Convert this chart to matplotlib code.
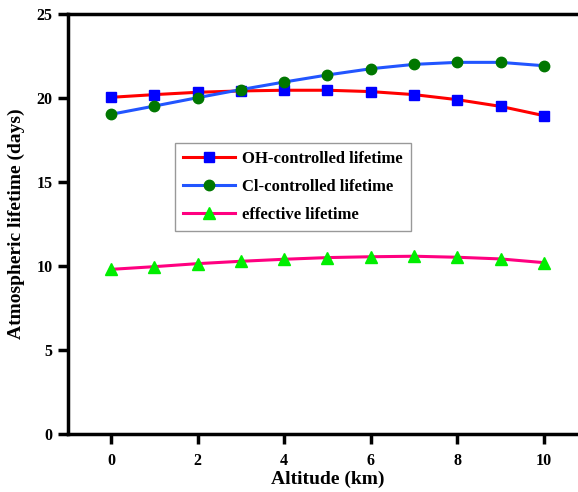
import matplotlib
matplotlib.use("Agg")
import matplotlib.pyplot as plt

altitude = [0, 1, 2, 3, 4, 5, 6, 7, 8, 9, 10]
oh_lifetime = [20.04, 20.2, 20.34, 20.42, 20.46, 20.46, 20.38, 20.2, 19.9, 19.5, 18.95]
cl_lifetime = [19.03, 19.52, 20.02, 20.5, 20.95, 21.37, 21.74, 22.0, 22.12, 22.12, 21.92]
eff_lifetime = [9.8, 9.96, 10.14, 10.28, 10.4, 10.5, 10.55, 10.58, 10.52, 10.42, 10.2]
labels = ["OH-controlled lifetime", "Cl-controlled lifetime", "effective lifetime"]

plt.rcParams['font.family'] = ['Liberation Serif', 'DejaVu Serif']
plt.rcParams['font.weight'] = 'bold'

fig = plt.figure(figsize=(5.78, 4.92), dpi=100)
ax = fig.add_axes([0.1176, 0.1179, 0.898, 0.8537])

ax.plot(altitude, oh_lifetime, color='#ff0000', lw=2.2, marker='s', ms=7,
        mfc='#0000ff', mec='#0000ff', label=labels[0])
ax.plot(altitude, cl_lifetime, color='#2255ff', lw=2.2, marker='o', ms=7.5,
        mfc='#007700', mec='#007700', label=labels[1])
ax.plot(altitude, eff_lifetime, color='#ff0080', lw=2.2, marker='^', ms=8,
        mfc='#00ee00', mec='#00ee00', label=labels[2])

ax.set_xlim(-1, 11)
ax.set_ylim(0, 25)
ax.set_xticks([0, 2, 4, 6, 8, 10])
ax.set_yticks([0, 5, 10, 15, 20, 25])
for s in ['left', 'bottom', 'top']:
    ax.spines[s].set_linewidth(2.5)
ax.spines['right'].set_visible(False)
ax.tick_params(axis='both', direction='out', length=7, width=2.5, labelsize=11.5)
ax.tick_params(axis='x', pad=7)
ax.tick_params(axis='y', pad=4)
for lab in ax.get_xticklabels() + ax.get_yticklabels():
    lab.set_fontweight('bold')

ax.set_xlabel('Altitude (km)', fontsize=14, fontweight='bold', labelpad=1)
ax.set_ylabel('Atmospheric lifetime (days)', fontsize=14, fontweight='bold', labelpad=8)

leg = ax.legend(loc='upper left', bbox_to_anchor=(0.206, 0.693), borderaxespad=0,
                fontsize=12, frameon=True, fancybox=False, edgecolor='#808080',
                handlelength=3.1, borderpad=0.5, labelspacing=0.7, handletextpad=0.45)
leg.get_frame().set_linewidth(1)
for t in leg.get_texts():
    t.set_fontweight('bold')

fig.savefig('out.png', dpi=100)
